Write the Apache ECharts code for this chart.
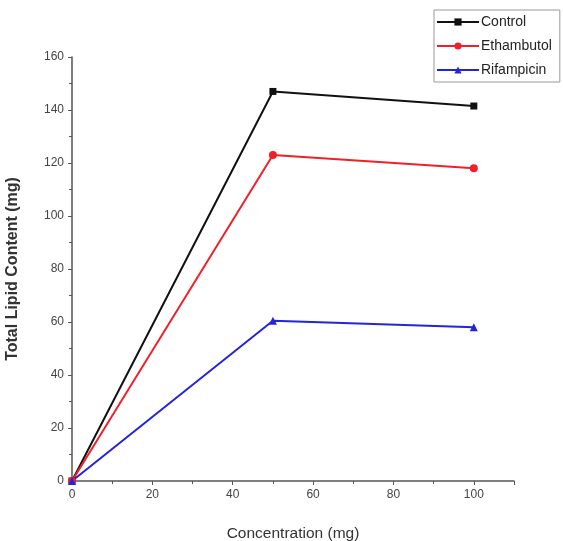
<!DOCTYPE html>
<html><head><meta charset="utf-8">
<script src="https://cdn.jsdelivr.net/npm/echarts@6/dist/echarts.min.js"></script>
<style>html,body{margin:0;padding:0;background:#fff}#c{width:563px;height:541px}</style>
</head><body><div id="c"></div>
<script>
const xValues = [0, 50, 100];
const control = [0, 147, 141.5];
const ethambutol = [0, 123, 118];
const rifampicin = [0, 60.5, 58];
const seriesNames = ['Control', 'Ethambutol', 'Rifampicin'];

const chart = echarts.init(document.getElementById('c'));
const pair = arr => xValues.map((x, i) => [x, arr[i]]);
const axisCol = '#555';
chart.setOption({
  animation: false,
  backgroundColor: '#fff',
  legend: {
    orient: 'vertical', left: 434, top: 10,
    borderColor: '#999', borderWidth: 1, padding: [5, 8, 5, 2],
    itemGap: 10, itemWidth: 42, itemHeight: 9,
    textStyle: { fontFamily: 'Liberation Sans, Arial', fontSize: 14, color: '#222', padding: [0, 0, 0, -3] },
    data: seriesNames
  },
  grid: { left: 72, right: 49, top: 57, bottom: 60, containLabel: false, outerBoundsMode: 'none' },
  xAxis: {
    type: 'value', min: 0, max: 110, interval: 20,
    name: 'Concentration (mg)', nameLocation: 'middle', nameGap: 45,
    nameTextStyle: { fontFamily: 'Liberation Sans, Arial', fontSize: 15.5, color: '#333' },
    axisLine: { lineStyle: { color: axisCol, width: 1.5 } },
    axisTick: { show: true, length: 4, lineStyle: { color: axisCol } },
    minorTick: { show: true, splitNumber: 2, length: 3, lineStyle: { color: axisCol } },
    axisLabel: { fontFamily: 'Liberation Sans, Arial', fontSize: 12, color: '#444', margin: 8,
      formatter: v => v > 100 ? '' : v },
    splitLine: { show: false }
  },
  yAxis: {
    type: 'value', min: 0, max: 160, interval: 20,
    name: 'Total Lipid Content (mg)', nameLocation: 'middle', nameGap: 51,
    nameTextStyle: { fontFamily: 'Liberation Sans, Arial', fontSize: 16, fontWeight: 'bold', color: '#333' },
    axisLine: { show: true, lineStyle: { color: axisCol, width: 1.5 } },
    axisTick: { show: true, length: 4, lineStyle: { color: axisCol } },
    minorTick: { show: true, splitNumber: 2, length: 3, lineStyle: { color: axisCol } },
    axisLabel: { fontFamily: 'Liberation Sans, Arial', fontSize: 12, color: '#444', margin: 8 },
    splitLine: { show: false }
  },
  series: [
    { name: seriesNames[0], type: 'line', data: pair(control), symbol: 'rect', symbolSize: 7,
      itemStyle: { color: '#111' }, lineStyle: { color: '#111', width: 2 } },
    { name: seriesNames[1], type: 'line', data: pair(ethambutol), symbol: 'circle', symbolSize: 8,
      itemStyle: { color: '#f0202a' }, lineStyle: { color: '#f0202a', width: 2 } },
    { name: seriesNames[2], type: 'line', data: pair(rifampicin), symbol: 'triangle', symbolSize: 8,
      itemStyle: { color: '#2424e0' }, lineStyle: { color: '#2424e0', width: 2 } }
  ]
});
</script></body></html>
